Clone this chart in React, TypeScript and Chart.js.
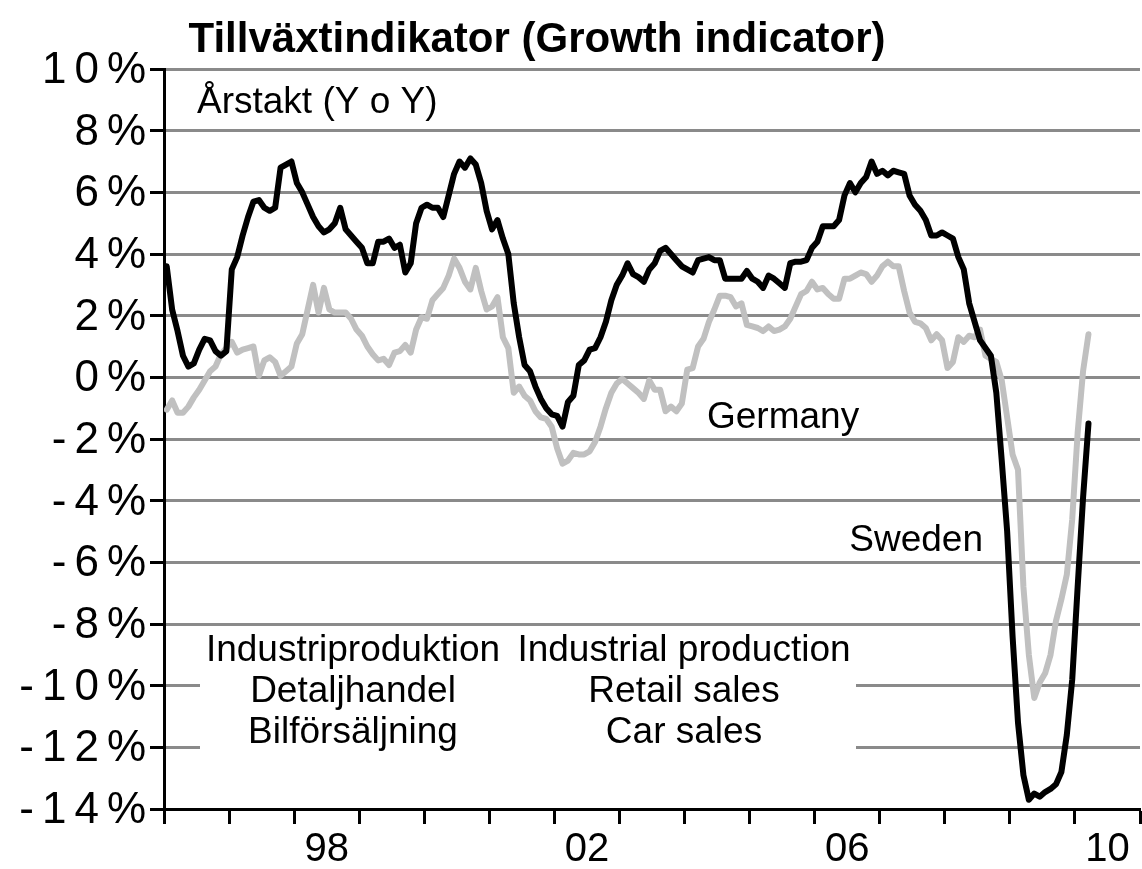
import React, { useEffect, useRef } from "react";
import { Chart, registerables } from "chart.js";

Chart.register(...registerables);

// ---- data (monthly, Jan 1996 – Mar 2010, y/y %) ----
const START_YEAR = 1996;
const AXIS_MIN_YEAR = 1996;
const AXIS_MAX_YEAR = 2011;

const sweden = [
  3.6, 2.2, 1.5, 0.7, 0.35, 0.45, 0.9, 1.25, 1.2, 0.85, 0.7, 0.85,
  3.5, 3.9, 4.6, 5.2, 5.7, 5.75, 5.5, 5.4, 5.5, 6.8, 6.9, 7.0,
  6.3, 6.0, 5.6, 5.2, 4.9, 4.7, 4.8, 5.0, 5.5, 4.8, 4.6, 4.4,
  4.2, 3.7, 3.7, 4.4, 4.4, 4.5, 4.2, 4.3, 3.4, 3.7, 5.0, 5.5,
  5.6, 5.5, 5.5, 5.2, 5.9, 6.6, 7.0, 6.8, 7.1, 6.9, 6.3, 5.4,
  4.8, 5.1, 4.5, 4.0, 2.4, 1.3, 0.4, 0.2, -0.3, -0.7, -1.0, -1.2,
  -1.25, -1.6, -0.8, -0.6, 0.4, 0.55, 0.9, 0.95, 1.3, 1.8, 2.5, 3.0,
  3.3, 3.7, 3.35, 3.25, 3.1, 3.5, 3.7, 4.1, 4.2, 4.0, 3.8, 3.6,
  3.5, 3.4, 3.8, 3.85, 3.9, 3.8, 3.8, 3.2, 3.2, 3.2, 3.2, 3.45,
  3.2, 3.1, 2.9, 3.3, 3.2, 3.05, 2.9, 3.7, 3.75, 3.75, 3.8, 4.2,
  4.4, 4.9, 4.9, 4.9, 5.1, 5.9, 6.3, 6.0, 6.3, 6.5, 7.0, 6.6,
  6.7, 6.55, 6.7, 6.65, 6.6, 5.9, 5.6, 5.4, 5.1, 4.6, 4.6, 4.7,
  4.6, 4.5, 3.9, 3.5, 2.4, 1.8, 1.2, 0.95, 0.7, -0.5, -2.7, -5.0,
  -8.4, -11.2, -12.9, -13.7, -13.5, -13.6, -13.45, -13.35, -13.2, -12.8, -11.6, -9.8,
  -6.8, -3.9, -1.5,
];

const germany = [
  -1.05, -0.75, -1.15, -1.15, -0.95, -0.65, -0.4, -0.1, 0.2, 0.35, 0.75, 0.95,
  1.15, 0.8, 0.9, 0.95, 1.0, 0.05, 0.55, 0.65, 0.5, 0.05, 0.2, 0.35,
  1.1, 1.4, 2.2, 3.0, 2.1, 2.9, 2.2, 2.1, 2.1, 2.1, 1.9, 1.55,
  1.35, 1.0, 0.75, 0.55, 0.6, 0.4, 0.8, 0.85, 1.05, 0.8, 1.55, 1.95,
  1.9, 2.5, 2.7, 2.9, 3.3, 3.85, 3.55, 3.1, 2.85, 3.55, 2.8, 2.2,
  2.3, 2.6, 1.3, 0.95, -0.5, -0.3, -0.6, -0.75, -1.1, -1.3, -1.35, -1.6,
  -2.3, -2.8, -2.7, -2.45, -2.5, -2.5, -2.4, -2.1, -1.6, -1.0, -0.5, -0.2,
  -0.05, -0.2, -0.35, -0.5, -0.7, -0.1, -0.4, -0.4, -1.1, -0.95, -1.1, -0.85,
  0.25, 0.3, 1.0, 1.25, 1.8, 2.2, 2.65, 2.65, 2.6, 2.3, 2.4, 1.7,
  1.65, 1.6, 1.5, 1.65, 1.5, 1.55, 1.65, 1.9, 2.3, 2.7, 2.8, 3.1,
  2.85, 2.9, 2.7, 2.55, 2.55, 3.2, 3.2, 3.3, 3.4, 3.35, 3.1, 3.3,
  3.6, 3.75, 3.6, 3.6, 2.8, 2.1, 1.8, 1.75, 1.6, 1.2, 1.4, 1.2,
  0.3, 0.5, 1.3, 1.15, 1.35, 1.3, 1.55, 0.7, 0.6, 0.5, -0.1, -1.3,
  -2.5, -3.0, -6.8, -9.0, -10.4, -9.9, -9.6, -9.0, -7.9, -7.2, -6.4, -4.6,
  -1.8, 0.2, 1.4,
];

const Y_MIN = -14;
const Y_MAX = 10;
const Y_STEP = 2;
const yTickValues = [10, 8, 6, 4, 2, 0, -2, -4, -6, -8, -10, -12, -14];

const xLabelYears = [1998, 2002, 2006, 2010];
const xLabelTexts = ["98", "02", "06", "10"];

const titleText = "Tillväxtindikator (Growth indicator)";
const noteText = "Årstakt (Y o Y)";
const seriesNames = ["Sweden", "Germany"];
const leftBlock = ["Industriproduktion", "Detaljhandel", "Bilförsäljning"];
const rightBlock = ["Industrial production", "Retail sales", "Car sales"];

const FONT = '"Liberation Sans", Arial, Helvetica, sans-serif';

const monthX = (i: number) => START_YEAR + (i + 0.5) / 12;

// draw text right-aligned with a little extra spacing between glyphs
function drawSpacedRight(ctx: CanvasRenderingContext2D, text: string, right: number, y: number, spacing: number) {
  const chars = Array.from(text);
  const widths = chars.map((c) => ctx.measureText(c).width);
  const total = widths.reduce((a, b) => a + b, 0) + spacing * (chars.length - 1);
  let x = right - total;
  chars.forEach((c, i) => {
    ctx.fillText(c, x, y);
    x += widths[i] + spacing;
  });
}

const annotationPlugin = {
  id: "annotations",
  beforeDatasetsDraw(chart: any) {
    const ctx = chart.ctx as CanvasRenderingContext2D;
    ctx.save();
    // white text box over the lower grid lines
    ctx.fillStyle = "#ffffff";
    ctx.fillRect(200, 630, 656, 128);
    ctx.fillStyle = "#000000";
    ctx.font = `37px ${FONT}`;
    ctx.textBaseline = "alphabetic";
    ctx.textAlign = "left";
    ctx.fillText(noteText, 197, 113);
    ctx.fillText(seriesNames[1], 707, 428);
    ctx.textAlign = "right";
    ctx.fillText(seriesNames[0], 983, 551);
    ctx.textAlign = "center";
    leftBlock.forEach((t, i) => ctx.fillText(t, 353, 661 + i * 41));
    rightBlock.forEach((t, i) => ctx.fillText(t, 684, 661 + i * 41));
    ctx.restore();
  },
  afterDraw(chart: any) {
    const ctx = chart.ctx as CanvasRenderingContext2D;
    const yScale = chart.scales.y;
    ctx.save();
    ctx.fillStyle = "#000000";
    // y-axis tick labels
    ctx.font = `44px ${FONT}`;
    ctx.textAlign = "left";
    ctx.textBaseline = "middle";
    yTickValues.forEach((v) => {
      const py = yScale.getPixelForValue(v);
      drawSpacedRight(ctx, `${v}%`, 146, py + 2, 8);
    });
    // title
    ctx.font = `bold 42px ${FONT}`;
    ctx.textAlign = "center";
    ctx.textBaseline = "alphabetic";
    ctx.fillText(titleText, 537, 52);
    ctx.restore();
  },
};

export default function App() {
  const canvasRef = useRef<HTMLCanvasElement | null>(null);

  useEffect(() => {
    if (!canvasRef.current) return;
    const chart = new Chart(canvasRef.current, {
      type: "line",
      data: {
        datasets: [
          {
            label: seriesNames[0],
            data: sweden.map((v, i) => ({ x: monthX(i), y: v })),
            borderColor: "#000000",
            borderWidth: 6,
            pointRadius: 0,
            tension: 0,
            borderJoinStyle: "round",
            borderCapStyle: "round",
            fill: false,
            order: 0,
          },
          {
            label: seriesNames[1],
            data: germany.map((v, i) => ({ x: monthX(i), y: v })),
            borderColor: "#c0c0c0",
            borderWidth: 6,
            pointRadius: 0,
            tension: 0,
            borderJoinStyle: "round",
            borderCapStyle: "round",
            fill: false,
            order: 1,
          },
        ],
      },
      options: {
        animation: false,
        responsive: false,
        maintainAspectRatio: false,
        devicePixelRatio: 1,
        layout: { padding: { top: 69, right: 1, left: 0, bottom: 0 } },
        plugins: {
          legend: { display: false },
          tooltip: { enabled: false },
          title: { display: false },
        },
        scales: {
          x: {
            type: "linear",
            min: AXIS_MIN_YEAR,
            max: AXIS_MAX_YEAR,
            afterFit: (scale: any) => {
              scale.height = 60;
            },
            afterBuildTicks: (scale: any) => {
              const t = [];
              for (let y = AXIS_MIN_YEAR; y <= AXIS_MAX_YEAR; y++) t.push({ value: y });
              scale.ticks = t;
            },
            ticks: {
              autoSkip: false,
              maxRotation: 0,
              minRotation: 0,
              color: "#000000",
              font: { family: FONT, size: 40 },
              padding: 2,
              labelOffset: 32.5,
              callback: (value: any) => {
                const idx = xLabelYears.indexOf(Number(value));
                return idx >= 0 ? xLabelTexts[idx] : "";
              },
            },
            grid: {
              drawOnChartArea: false,
              drawTicks: true,
              tickLength: 15,
              tickColor: "#000000",
              tickWidth: 3,
            },
            border: { display: true, color: "#000000", width: 3 },
          },
          y: {
            min: Y_MIN,
            max: Y_MAX,
            afterFit: (scale: any) => {
              scale.width = 164;
            },
            ticks: {
              stepSize: Y_STEP,
              display: false,
            },
            grid: {
              color: "#8a8a8a",
              lineWidth: 3,
              drawTicks: true,
              tickLength: 14,
              tickColor: "#000000",
              tickWidth: 3,
            },
            border: { display: true, color: "#000000", width: 3 },
          },
        },
      },
      plugins: [annotationPlugin],
    });
    return () => chart.destroy();
  }, []);

  return (
    <div style={{ position: "absolute", left: 0, top: 0, width: 1142, height: 869, background: "#fff" }}>
      <canvas ref={canvasRef} width={1142} height={869} style={{ display: "block" }} />
    </div>
  );
}
